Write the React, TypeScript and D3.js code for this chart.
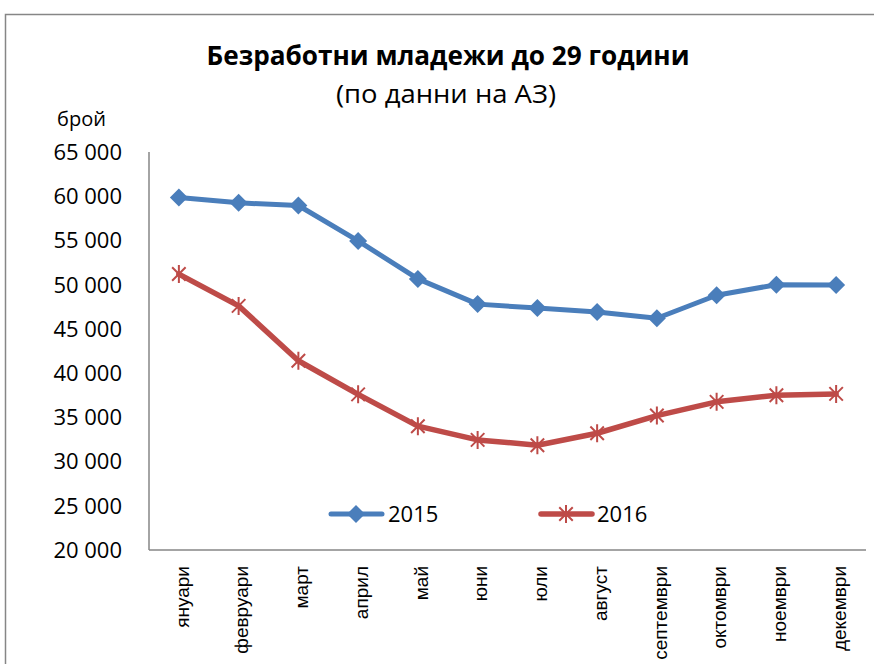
import React from "react";
import * as d3 from "d3";

const months = ["януари", "февруари", "март", "април", "май", "юни", "юли", "август", "септември", "октомври", "ноември", "декември"];
const values2015 = [59850, 59250, 58950, 54950, 50650, 47800, 47350, 46900, 46200, 48800, 50000, 49950];
const values2016 = [51200, 47600, 41400, 37600, 34000, 32450, 31850, 33200, 35200, 36750, 37500, 37650];
const yTicks = [20000, 25000, 30000, 35000, 40000, 45000, 50000, 55000, 60000, 65000];
const seriesNames = ["2015", "2016"];

const W = 874;
const H = 664;
const left = 149;
const right = 866;
const top = 152;
const bottom = 550;
const BLUE = "#4A7EBB";
const RED = "#BE4B48";
const AXIS = "#868686";
const FONT = "'Open Sans', 'Noto Sans', sans-serif";

const locale = d3.formatLocale({ thousands: " ", grouping: [3], decimal: ",", currency: ["", ""] });
const fmt = locale.format(",d");

function Diamond({ cx, cy, r }: { cx: number; cy: number; r: number }) {
  return <path d={`M${cx},${cy - r}L${cx + r},${cy}L${cx},${cy + r}L${cx - r},${cy}Z`} fill={BLUE} />;
}

function Star({ cx, cy, r }: { cx: number; cy: number; r: number }) {
  const d = r * 0.75;
  return (
    <path
      d={`M${cx},${cy - r}L${cx},${cy + r}M${cx - d},${cy - d}L${cx + d},${cy + d}M${cx - d},${cy + d}L${cx + d},${cy - d}`}
      stroke={RED}
      strokeWidth={2}
      fill="none"
    />
  );
}

export default function App() {
  const x = d3.scaleBand<string>().domain(months).range([left, right]);
  const cx = (m: string) => (x(m) as number) + x.bandwidth() / 2;
  const y = d3.scaleLinear().domain([20000, 65000]).range([bottom, top]);
  const line = d3
    .line<number>()
    .x((_, i) => cx(months[i]))
    .y((v) => y(v));

  return (
    <svg width={W} height={H} style={{ position: "absolute", left: 0, top: 0, background: "#fff" }}>
      <rect x={5.5} y={14.5} width={1000} height={1000} fill="#fff" stroke={AXIS} strokeWidth={1.5} />
      <text x={448} y={65} textAnchor="middle" fontFamily={FONT} fontWeight="bold" fontSize={26.5} textLength={483} lengthAdjust="spacingAndGlyphs" fill="#000">
        Безработни младежи до 29 години
      </text>
      <text x={446} y={103} textAnchor="middle" fontFamily={FONT} fontSize={26} textLength={220} lengthAdjust="spacingAndGlyphs" fill="#000">
        (по данни на АЗ)
      </text>
      <text x={57} y={126} fontFamily={FONT} fontSize={20} fill="#000">
        брой
      </text>
      {yTicks.map((t) => (
        <text key={t} x={122} y={y(t)} dy="0.36em" textAnchor="end" fontFamily={FONT} fontSize={22} fill="#000">
          {fmt(t)}
        </text>
      ))}
      <line x1={left} y1={top} x2={left} y2={bottom} stroke={AXIS} strokeWidth={1.5} />
      <line x1={left} y1={bottom} x2={right} y2={bottom} stroke={AXIS} strokeWidth={1.5} />
      {months.map((m) => (
        <text
          key={m}
          transform={`translate(${cx(m) + 3},${566}) rotate(-90)`}
          textAnchor="end"
          dy="0.35em"
          fontFamily="'Liberation Sans', Arial, sans-serif"
          fontSize={19}
          fill="#000"
        >
          {m}
        </text>
      ))}
      <path d={line(values2015) || ""} fill="none" stroke={BLUE} strokeWidth={5} strokeLinejoin="round" strokeLinecap="round" />
      <path d={line(values2016) || ""} fill="none" stroke={RED} strokeWidth={5.5} strokeLinejoin="round" strokeLinecap="round" />
      {values2015.map((v, i) => (
        <Diamond key={i} cx={cx(months[i])} cy={y(v)} r={9} />
      ))}
      {values2016.map((v, i) => (
        <Star key={i} cx={cx(months[i])} cy={y(v)} r={9} />
      ))}
      <g>
        <line x1={331} y1={514} x2={382} y2={514} stroke={BLUE} strokeWidth={5} strokeLinecap="round" />
        <Diamond cx={356} cy={514} r={9} />
        <text x={388} y={514} dy="0.36em" fontFamily={FONT} fontSize={22} fill="#000">
          {seriesNames[0]}
        </text>
        <line x1={541} y1={514} x2={592} y2={514} stroke={RED} strokeWidth={5.5} strokeLinecap="round" />
        <Star cx={566} cy={514} r={9} />
        <text x={597} y={514} dy="0.36em" fontFamily={FONT} fontSize={22} fill="#000">
          {seriesNames[1]}
        </text>
      </g>
    </svg>
  );
}
